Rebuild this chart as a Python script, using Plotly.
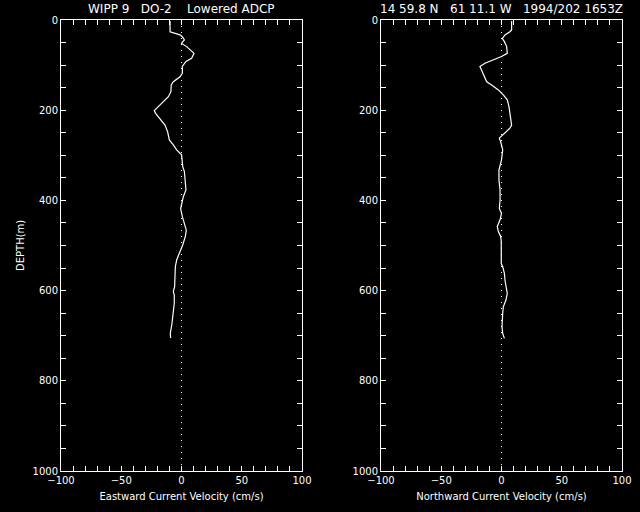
import plotly.graph_objects as go

# Eastward profile (cm/s) vs depth (m)
east_depth = [2, 26, 33, 37, 44, 52, 59, 74, 85, 92, 103, 118, 126, 137, 144, 159, 170, 181, 192, 201,
              207, 218, 233, 248, 266, 277, 288, 299, 310, 325, 336, 355, 377, 392, 407, 418, 436, 455, 466, 480,
              499, 517, 532, 547, 569, 591, 602, 610, 628, 650, 673, 695, 705]
east_vel = [-9.5, -9.5, -1.2, 0.7, 2.4, 0, 4.3, 10.4, 8.4, 3.7, 0.7, 0.7, -1.2, -6.8, -8.5, -8.8, -10.9, -15, -19.2, -22.6,
            -21.5, -17.9, -13.7, -11.5, -10.1, -6.8, -4, 0.1, 0.7, 1, 2.4, 2.9, 3.7, 1.5, 0, -0.7, 0.7, 2.4, 4, 3.2,
            1, -1.8, -4, -5.1, -5.1, -5.7, -6.8, -6, -6, -6.8, -7.9, -9.3, -9]

# Northward profile
north_depth = [2, 22, 26, 33, 41, 48, 59, 74, 81, 89, 96, 103, 111, 126, 137, 144, 155, 166, 177, 192,
               214, 233, 240, 251, 262, 270, 288, 310, 333, 355, 377, 399, 418, 429, 443, 458, 469, 480, 491, 510,
               540, 547, 562, 577, 591, 606, 621, 636, 650, 665, 680, 695, 706]
north_vel = [8.4, 8.4, 7, 2.9, 0.7, 2.4, 4.3, 4.8, 0, -6.8, -13.7, -17.9, -16.5, -14.5, -12.3, -8.2, -2.6, 1.5, 4.8, 6.2,
             7.6, 8.4, 7, 2.9, -1.8, -0.7, 1, 0, -2.1, -2.1, -1.2, -1.2, -1.8, 0, -1.2, -3.5, -2.6, -0.7, -0.2, -0.2,
             -0.2, 1, 2.4, 2.9, 3.7, 4.8, 3.7, 1.5, 1, 0.7, 0.4, 1, 2.4]

x_ticks = [-100, -50, 0, 50, 100]
y_ticks = [0, 200, 400, 600, 800, 1000]

left_title = "WIPP 9   DO-2    Lowered ADCP"
right_title = "14 59.8 N   61 11.1 W   1994/202 1653Z"
x_titles = ["Eastward Current Velocity (cm/s)", "Northward Current Velocity (cm/s)"]
y_title = "DEPTH(m)"

W, H = 640, 512
FONT = "DejaVu Sans"
fig = go.Figure()
fig.add_trace(go.Scatter(x=east_vel, y=east_depth, mode="lines",
                         line=dict(color="white", width=1.2), xaxis="x", yaxis="y", showlegend=False))
fig.add_trace(go.Scatter(x=north_vel, y=north_depth, mode="lines",
                         line=dict(color="white", width=1.2), xaxis="x2", yaxis="y2", showlegend=False))

ydom = [1 - 471 / H, 1 - 20 / H]
common_x = dict(range=[-100, 100], tickvals=x_ticks, ticktext=[str(v).replace("-", "\u2212") for v in x_ticks],
                ticks="inside", ticklen=5, tickcolor="white", showline=True, linecolor="white", linewidth=1,
                mirror="allticks", showgrid=False, zeroline=False, automargin=False,
                minor=dict(dtick=10, ticks="inside", ticklen=5, tickcolor="white", showgrid=False),
                tickfont=dict(family=FONT, size=10, color="white"))
common_y = dict(range=[1000, 0], tickvals=y_ticks, ticks="inside", ticklen=5, tickcolor="white",
                showline=True, linecolor="white", linewidth=1, mirror="allticks", showgrid=False, zeroline=False,
                automargin=False,
                minor=dict(dtick=50, ticks="inside", ticklen=5, tickcolor="white", showgrid=False),
                tickfont=dict(family=FONT, size=10, color="white"))

fig.update_layout(
    width=W, height=H, margin=dict(l=0, r=0, t=0, b=0, autoexpand=False),
    paper_bgcolor="black", plot_bgcolor="black",
    xaxis=dict(domain=[61 / W, 302 / W], anchor="y",
               title=dict(text=x_titles[0], font=dict(family=FONT, size=10, color="white"), standoff=7),
               **common_x),
    yaxis=dict(domain=ydom, anchor="x", **common_y),
    xaxis2=dict(domain=[381 / W, 622 / W], anchor="y2",
                title=dict(text=x_titles[1], font=dict(family=FONT, size=10, color="white"), standoff=7),
                **common_x),
    yaxis2=dict(domain=ydom, anchor="x2", **common_y),
    font=dict(family=FONT, color="white"),
)

for xr in ["x", "x2"]:
    fig.add_shape(type="line", xref=xr, yref=("y domain" if xr == "x" else "y2 domain"),
                  x0=0, x1=0, y0=0, y1=1, line=dict(color="white", width=1, dash="1px,5px"))

fig.add_annotation(text=left_title, x=181 / W, y=1 - 9 / H, xref="paper", yref="paper",
                   xanchor="center", yanchor="middle",
                   showarrow=False, font=dict(family=FONT, size=12, color="white"))
fig.add_annotation(text=right_title, x=501 / W, y=1 - 9 / H, xref="paper", yref="paper",
                   xanchor="center", yanchor="middle",
                   showarrow=False, font=dict(family=FONT, size=12, color="white"))
fig.add_annotation(text=y_title, x=20 / W, y=1 - 246 / H, xref="paper", yref="paper",
                   xanchor="center", yanchor="middle",
                   showarrow=False, textangle=-90, font=dict(family=FONT, size=10, color="white"))

fig.write_html("out.html", config={"displayModeBar": False},
               post_script="document.body.style.margin='0';document.body.style.overflow='hidden';")
